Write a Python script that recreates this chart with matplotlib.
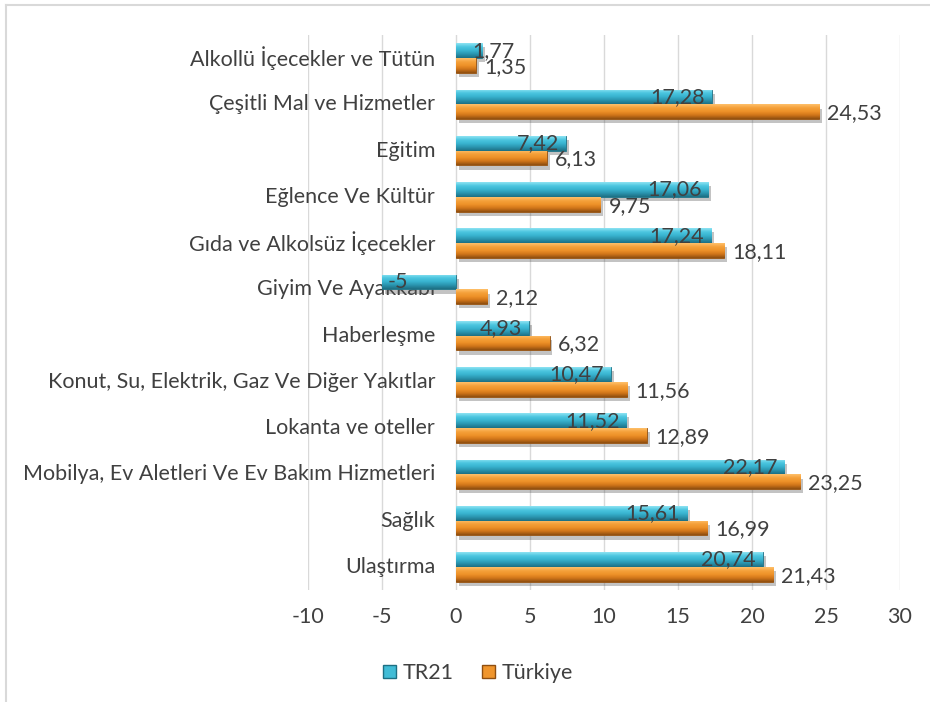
import matplotlib
matplotlib.use("Agg")
import matplotlib.pyplot as plt
import numpy as np
from matplotlib.colors import LinearSegmentedColormap
from matplotlib.patches import Rectangle
from matplotlib.lines import Line2D
import matplotlib.patheffects as pe

categories = ["Alkollü İçecekler ve Tütün", "Çeşitli Mal ve Hizmetler", "Eğitim",
              "Eğlence Ve Kültür", "Gıda ve Alkolsüz İçecekler", "Giyim Ve Ayakkabı",
              "Haberleşme", "Konut, Su, Elektrik, Gaz Ve Diğer Yakıtlar",
              "Lokanta ve oteller", "Mobilya, Ev Aletleri Ve Ev Bakım Hizmetleri",
              "Sağlık", "Ulaştırma"]
tr21 = [1.77, 17.28, 7.42, 17.06, 17.24, -5, 4.93, 10.47, 11.52, 22.17, 15.61, 20.74]
turkiye = [1.35, 24.53, 6.13, 9.75, 18.11, 2.12, 6.32, 11.56, 12.89, 23.25, 16.99, 21.43]
series_names = ["TR21", "Türkiye"]
xticks = [-10, -5, 0, 5, 10, 15, 20, 25, 30]

plt.rcParams['font.family'] = ['Lato', 'DejaVu Sans']
txt = "#404040"
FS = 15.5

fig = plt.figure(figsize=(9.3, 7.02), dpi=100)
ax = fig.add_axes([308/930, 1-590/702, (900-308)/930, (590-35)/702])

cyan_cmap = LinearSegmentedColormap.from_list("c", ["#8ee3f3", "#4cc6e0", "#38b3cf", "#2a93ad", "#1d6f83"])
orng_cmap = LinearSegmentedColormap.from_list("o", ["#ffc06a", "#f5a03a", "#ee9128", "#cf7419", "#8f4e10"])

y = np.arange(len(categories))
h = 0.32
b1 = ax.barh(y - h/2, tr21, height=h, color="#41bcd6", edgecolor="#1d6f83", linewidth=0.6, zorder=3)
b2 = ax.barh(y + h/2, turkiye, height=h, color="#f0952c", edgecolor="#8f4e10", linewidth=0.6, zorder=3)

grad = np.linspace(0, 1, 64).reshape(-1, 1)
for bars, cmap in ((b1, cyan_cmap), (b2, orng_cmap)):
    for p in bars:
        p.set_path_effects([pe.SimplePatchShadow(offset=(2, -3), alpha=0.35, shadow_rgbFace="#555555"), pe.Normal()])
        x0, yb = p.get_x(), p.get_y()
        w, hh = p.get_width(), p.get_height()
        im = ax.imshow(grad, cmap=cmap, aspect="auto", origin="lower",
                       extent=(min(x0, x0 + w), max(x0, x0 + w), yb, yb + hh), zorder=3.5)
        im.set_clip_path(p)

ax.set_xlim(-10, 30)
ax.set_ylim(len(categories) - 0.5, -0.5)
ax.set_xticks(xticks)
ax.set_xticklabels([str(t) for t in xticks], fontsize=FS, color=txt)
ax.tick_params(axis="x", length=0, pad=12)
ax.set_yticks([])
ax.grid(axis="x", color="#d9d9d9", linewidth=1, zorder=0)
for s in ax.spines.values():
    s.set_visible(False)

# category labels next to the zero axis
for i, c in enumerate(categories):
    ax.annotate(c, xy=(0, i), xytext=(-15, 0), textcoords="offset points",
                ha="right", va="center", fontsize=FS, color=txt, zorder=2)

def fmt(v):
    s = ("%.2f" % v).rstrip("0").rstrip(".")
    return s.replace(".", ",")

for i, v in enumerate(tr21):
    if v < 0:
        ax.annotate(fmt(v), xy=(v, i - h/2), xytext=(4, 0), textcoords="offset points",
                    ha="left", va="center", fontsize=FS, color=txt, zorder=5)
    elif v < 3:
        ax.annotate(fmt(v), xy=(v, i - h/2), xytext=(-7, 0), textcoords="offset points",
                    ha="left", va="center", fontsize=FS, color=txt, zorder=5)
    else:
        ax.annotate(fmt(v), xy=(v, i - h/2), xytext=(-5, 0), textcoords="offset points",
                    ha="right", va="center", fontsize=FS, color=txt, zorder=5)
for i, v in enumerate(turkiye):
    ax.annotate(fmt(v), xy=(v, i + h/2), xytext=(6, -1), textcoords="offset points",
                ha="left", va="center", fontsize=FS, color=txt, zorder=5)

# legend
handles = [Rectangle((0, 0), 1, 1, facecolor="#41bcd6", edgecolor="#1d6f83"),
           Rectangle((0, 0), 1, 1, facecolor="#f0952c", edgecolor="#8f4e10")]
fig.legend(handles, series_names, loc="center", bbox_to_anchor=(478/930, 1-673/702), ncol=2,
           frameon=False, fontsize=FS, handlelength=0.6, handleheight=0.6,
           columnspacing=1.3, handletextpad=0.3, labelcolor=txt)

# chart border (top and left visible)
fig.add_artist(Line2D([6/930, 1.0], [1-5/702, 1-5/702], transform=fig.transFigure,
                      color="#d9d9d9", linewidth=1.5))
fig.add_artist(Line2D([6/930, 6/930], [0, 1-5/702], transform=fig.transFigure,
                      color="#d9d9d9", linewidth=1.5))
fig.savefig("out.png", dpi=100, facecolor="white")
